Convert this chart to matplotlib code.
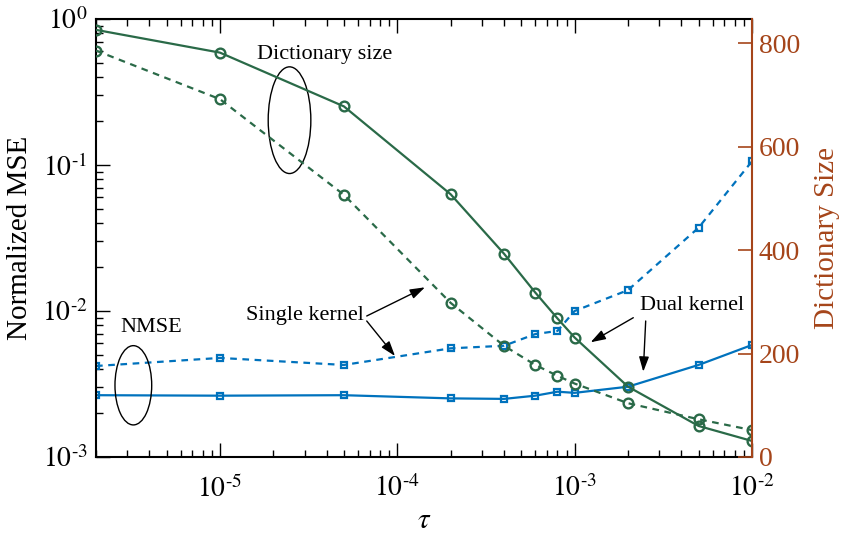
import matplotlib.pyplot as plt
from matplotlib.patches import Ellipse
import numpy as np

plt.rcParams['font.family'] = ['Liberation Serif', 'DejaVu Serif']
plt.rcParams['mathtext.fontset'] = 'stix'

# step size tau
tau = [2e-6, 1e-5, 5e-5, 2e-4, 4e-4, 6e-4, 8e-4, 1e-3, 2e-3, 5e-3, 1e-2]

# NMSE (left axis)
nmse_dual = [2.65e-3, 2.63e-3, 2.65e-3, 2.52e-3, 2.50e-3, 2.63e-3, 2.80e-3, 2.75e-3, 3.03e-3, 4.27e-3, 5.85e-3]
nmse_single = [4.2e-3, 4.77e-3, 4.27e-3, 5.55e-3, 5.78e-3, 6.95e-3, 7.3e-3, 1.0e-2, 1.39e-2, 3.72e-2, 0.106]

# dictionary size (right axis)
dict_dual = [826, 782, 678, 508, 393, 318, 268, 231, 136, 60, 31]
dict_single = [786, 692, 507, 298, 215, 178, 157, 142, 104, 73, 52]

xtks = [1e-5, 1e-4, 1e-3, 1e-2]
xtks_text = [r"$10^{\text{-}5}$", r"$10^{\text{-}4}$", r"$10^{\text{-}3}$", r"$10^{\text{-}2}$"]
ytks = [1e-3, 1e-2, 1e-1, 1]
ytks_text = [r"$10^{\text{-}3}$", r"$10^{\text{-}2}$", r"$10^{\text{-}1}$", r"$10^{0}$"]
ytks2 = [0, 200, 400, 600, 800]

azul = "#0072BD"
verde = "#2A6A48"
marron = "#A5451A"

fig = plt.figure(figsize=(8.43, 5.37), dpi=100)
ax = fig.add_axes([0.1139, 0.149, 0.7781, 0.8156])
ax2 = ax.twinx()

dash = (0, (3, 2.5))
ax.loglog(tau, nmse_dual, "-s", color=azul, lw=1.6, ms=5, mfc="none", mew=1.6)
ax.loglog(tau, nmse_single, "s", ls=dash, color=azul, lw=1.6, ms=5, mfc="none", mew=1.6)
ax2.plot(tau, dict_dual, "-o", color=verde, lw=1.6, ms=7, mfc="none", mew=1.7)
ax2.plot(tau, dict_single, "o", ls=dash, color=verde, lw=1.6, ms=7, mfc="none", mew=1.7)

ax.set_xlim(2e-6, 1e-2)
ax.set_ylim(1e-3, 1)
ax2.set_ylim(0, 847)
ax.set_xticks(xtks, xtks_text)
ax.set_yticks(ytks, ytks_text)
ax2.set_yticks(ytks2, [str(v) for v in ytks2])

ax.tick_params(which="both", direction="in", top=True, right=False, width=1, labelsize=20)
ax.tick_params(which="major", length=10)
ax.tick_params(which="minor", length=5)
ax.tick_params(axis="x", pad=13)
ax.tick_params(axis="y", pad=6)
ax2.tick_params(direction="in", length=10, width=1.2, color=marron, labelcolor=marron, labelsize=20, pad=5)

for s in ["left", "bottom", "top"]:
    ax.spines[s].set_linewidth(1.5)
ax.spines["right"].set_visible(False)
for s in ["left", "bottom", "top"]:
    ax2.spines[s].set_visible(False)
ax2.spines["right"].set_color(marron)
ax2.spines["right"].set_linewidth(1.5)

ax.set_xlabel(r"$\tau$", fontsize=21, labelpad=4)
ax.set_ylabel("Normalized MSE", fontsize=21, labelpad=6)
ax2.set_ylabel("Dictionary Size", fontsize=21, color=marron, labelpad=10)

# notes
ax.text(0.349, 0.918, "Dictionary size", transform=ax.transAxes, fontsize=16, ha="center", va="center")
ax.add_patch(Ellipse((0.295, 0.769), 0.065, 0.2436, transform=ax.transAxes, fill=False, lw=1, color="k", zorder=5))
ax.text(0.0845, 0.296, "NMSE", transform=ax.transAxes, fontsize=16, ha="center", va="center")
ax.add_patch(Ellipse((0.0569, 0.1637), 0.056, 0.181, transform=ax.transAxes, fill=False, lw=1, color="k", zorder=5))

ax.text(0.3186, 0.322, "Single kernel", transform=ax.transAxes, fontsize=16, ha="center", va="center")
ax.text(0.908, 0.347, "Dual kernel", transform=ax.transAxes, fontsize=16, ha="center", va="center")

flecha = dict(arrowstyle="-|>,head_length=0.9,head_width=0.3", lw=1, color="k", shrinkA=0, shrinkB=0)
for ini, fin in [((0.4127, 0.3219), (0.5015, 0.3874)),
                 ((0.4127, 0.3105), (0.4558, 0.2306)),
                 ((0.8191, 0.3180), (0.7541, 0.2619)),
                 ((0.8380, 0.3105), (0.8343, 0.1947))]:
    ax2.annotate("", xy=fin, xytext=ini, xycoords=ax.transAxes, textcoords=ax.transAxes, arrowprops=flecha)

plt.savefig("out.png", dpi=100)
